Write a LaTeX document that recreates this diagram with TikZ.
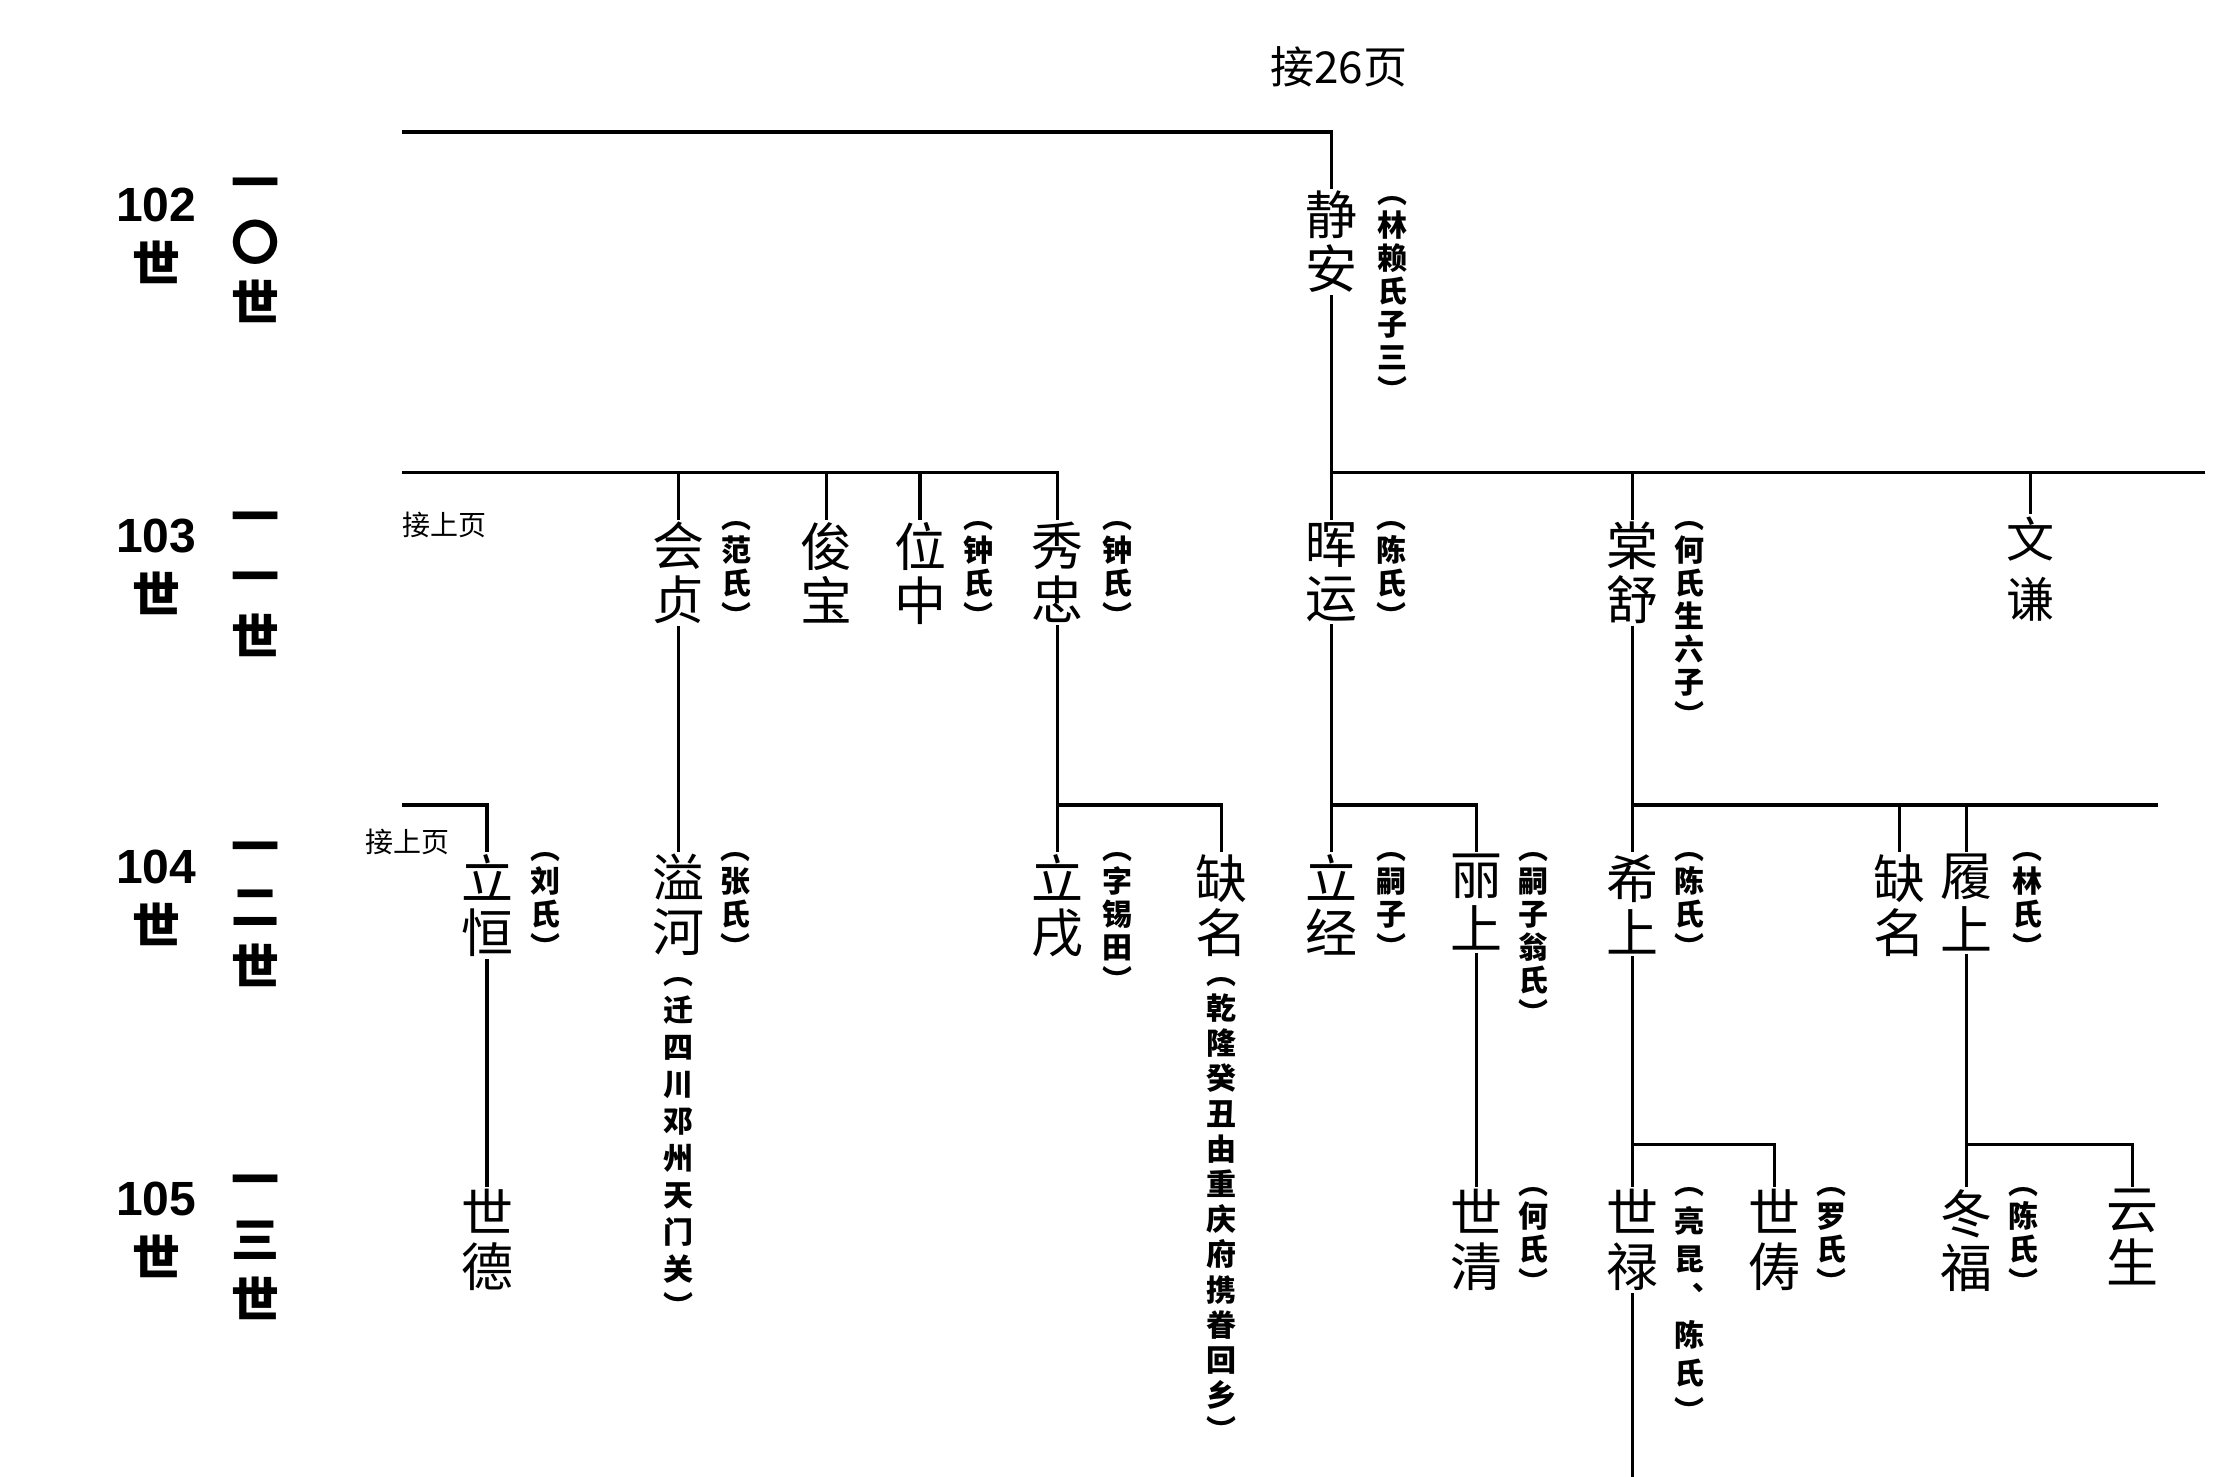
\documentclass[tikz,border=0pt]{standalone}
\usepackage{fontspec}
\setmainfont{Liberation Sans}
\newfontfamily\cjk{Noto Sans CJK SC}
\begin{document}
\begin{tikzpicture}[x=0.71pt,y=-0.71pt,
  nm/.style={font=\cjk\fontsize{26}{27}\selectfont, align=center, inner sep=1pt, anchor=north},
  an/.style={font=\cjk\bfseries\fontsize{15}{16.5}\selectfont, align=center, inner sep=0pt, anchor=north},
  lab/.style={font=\cjk\bfseries\fontsize{24}{30}\selectfont, align=center, inner sep=0pt, anchor=north},
  num/.style={font=\bfseries\fontsize{24}{30}\selectfont, align=center, inner sep=0pt, anchor=north},
  note/.style={font=\cjk\fontsize{14}{14}\selectfont, inner sep=0pt},
  ln/.style={line width=1.6pt}]
\useasboundingbox (0,0) rectangle (1560,1040);
% left labels
\node[num] (g102) at (110,132) {102\\{\cjk 世}};
\node[lab] (c102) at (180,125) {一\\〇\\世};
\node[num] (g103) at (110,365) {103\\{\cjk 世}};
\node[lab] (c103) at (180,360) {一\\一\\世};
\node[num] (g104) at (110,598) {104\\{\cjk 世}};
\node[lab] (c104) at (180,593) {一\\二\\世};
\node[num] (g105) at (110,832) {105\\{\cjk 世}};
\node[lab] (c105) at (180,827) {一\\三\\世};
% notes
\node[note,font=\cjk\fontsize{22}{22}\selectfont] (p26) at (943,47) {接26页};
\node[note] (up1) at (313,370) {接上页};
\node[note] (up2) at (287,593) {接上页};
% coordinates
\coordinate (T) at (283,93);
\coordinate (L1) at (283,333);
\coordinate (R1) at (1553,333);
\coordinate (L2) at (283,567);
\coordinate (R2) at (1520,567);
\coordinate (B) at (1150,1040);
% 102
\node[nm] (jingan) at (938,133) {静\\安};
\node[an] at (981,138) {︵\\林\\赖\\氏\\子\\三\\︶};
% 103
\node[nm] (huizhen) at (478,366) {会\\贞};
\node[an] at (519,367) {︵\\范\\氏\\︶};
\node[nm] (junbao) at (582,366) {俊\\宝};
\node[nm] (weizhong) at (648,366) {位\\中};
\node[an] at (689,367) {︵\\钟\\氏\\︶};
\node[nm] (xiuzhong) at (745,366) {秀\\忠};
\node[an] at (787,367) {︵\\钟\\氏\\︶};
\node[nm] (huiyun) at (938,366) {晖\\运};
\node[an] at (980,367) {︵\\陈\\氏\\︶};
\node[nm] (tangshu) at (1150,366) {棠\\舒};
\node[an] at (1190,367) {︵\\何\\氏\\生\\六\\子\\︶};
\node[nm,font=\cjk\fontsize{24}{30}\selectfont] (wenqian) at (1430,362) {文\\谦};
% 104
\node[nm] (liheng) at (343,600) {立\\恒};
\node[an] at (384,600) {︵\\刘\\氏\\︶};
\node[nm] (yihe) at (478,600) {溢\\河};
\node[an] at (518,600) {︵\\张\\氏\\︶};
\node[an,font=\cjk\bfseries\fontsize{15}{18.5}\selectfont] at (478,688) {︵\\迁\\四\\川\\邓\\州\\天\\门\\关\\︶};
\node[nm] (lishu) at (745,600) {立\\戌};
\node[an] at (787,600) {︵\\字\\锡\\田\\︶};
\node[nm] (queming1) at (860,600) {缺\\名};
\node[an,font=\cjk\bfseries\fontsize{15}{17.6}\selectfont] at (860,688) {︵\\乾\\隆\\癸\\丑\\由\\重\\庆\\府\\携\\眷\\回\\乡\\︶};
\node[nm] (lijing) at (938,600) {立\\经};
\node[an] at (980,600) {︵\\嗣\\子\\︶};
\node[nm] (lishang) at (1040,600) {丽\\上};
\node[an] at (1080,600) {︵\\嗣\\子\\翁\\氏\\︶};
\node[nm] (xishang) at (1150,600) {希\\上};
\node[an] at (1190,600) {︵\\陈\\氏\\︶};
\node[nm] (queming2) at (1338,600) {缺\\名};
\node[nm] (lvshang) at (1385,600) {履\\上};
\node[an] at (1428,600) {︵\\林\\氏\\︶};
% 105
\node[nm] (shide) at (343,836) {世\\德};
\node[nm] (shiqing) at (1040,836) {世\\清};
\node[an] at (1080,836) {︵\\何\\氏\\︶};
\node[nm] (shilu) at (1150,836) {世\\禄};
\node[an,font=\cjk\bfseries\fontsize{15}{19}\selectfont] at (1190,836) {︵\\亮\\昆\\︑\\陈\\氏\\︶};
\node[nm] (shichou) at (1250,836) {世\\俦};
\node[an] at (1290,836) {︵\\罗\\氏\\︶};
\node[nm] (dongfu) at (1385,836) {冬\\福};
\node[an] at (1425,836) {︵\\陈\\氏\\︶};
\node[nm] (yunsheng) at (1502,836) {云\\生};
% connectors
\draw[ln] (T) -| (jingan.north);
\draw[ln] (jingan.south) -- (huiyun.north);
\draw[ln] (huiyun.north |- R1) -- (R1);
\draw[ln] (L1) -| (xiuzhong.north);
\draw[ln] (huizhen.north) -- (huizhen.north |- L1);
\draw[ln] (junbao.north) -- (junbao.north |- L1);
\draw[ln] (weizhong.north) -- (weizhong.north |- L1);
\draw[ln] (tangshu.north) -- (tangshu.north |- R1);
\draw[ln] (wenqian.north) -- (wenqian.north |- R1);
\draw[ln] (huizhen.south) -- (yihe.north);
\draw[ln] (xiuzhong.south) -- (lishu.north);
\draw[ln] (xiuzhong.south |- L2) -| (queming1.north);
\draw[ln] (huiyun.south) -- (lijing.north);
\draw[ln] (huiyun.south |- L2) -| (lishang.north);
\draw[ln] (tangshu.south) -- (xishang.north);
\draw[ln] (tangshu.south |- L2) -- (R2);
\draw[ln] (queming2.north) -- (queming2.north |- L2);
\draw[ln] (lvshang.north) -- (lvshang.north |- L2);
\draw[ln] (L2) -| (liheng.north);
\draw[ln] (liheng.south) -- (shide.north);
\draw[ln] (lishang.south) -- (shiqing.north);
\draw[ln] (xishang.south) -- (shilu.north);
\coordinate (M1) at (1150,806);
\draw[ln] (M1) -| (shichou.north);
\draw[ln] (shilu.south) -- (B);
\draw[ln] (lvshang.south) -- (dongfu.north);
\draw[ln] (lvshang.south |- M1) -| (yunsheng.north);
\end{tikzpicture}
\end{document}
